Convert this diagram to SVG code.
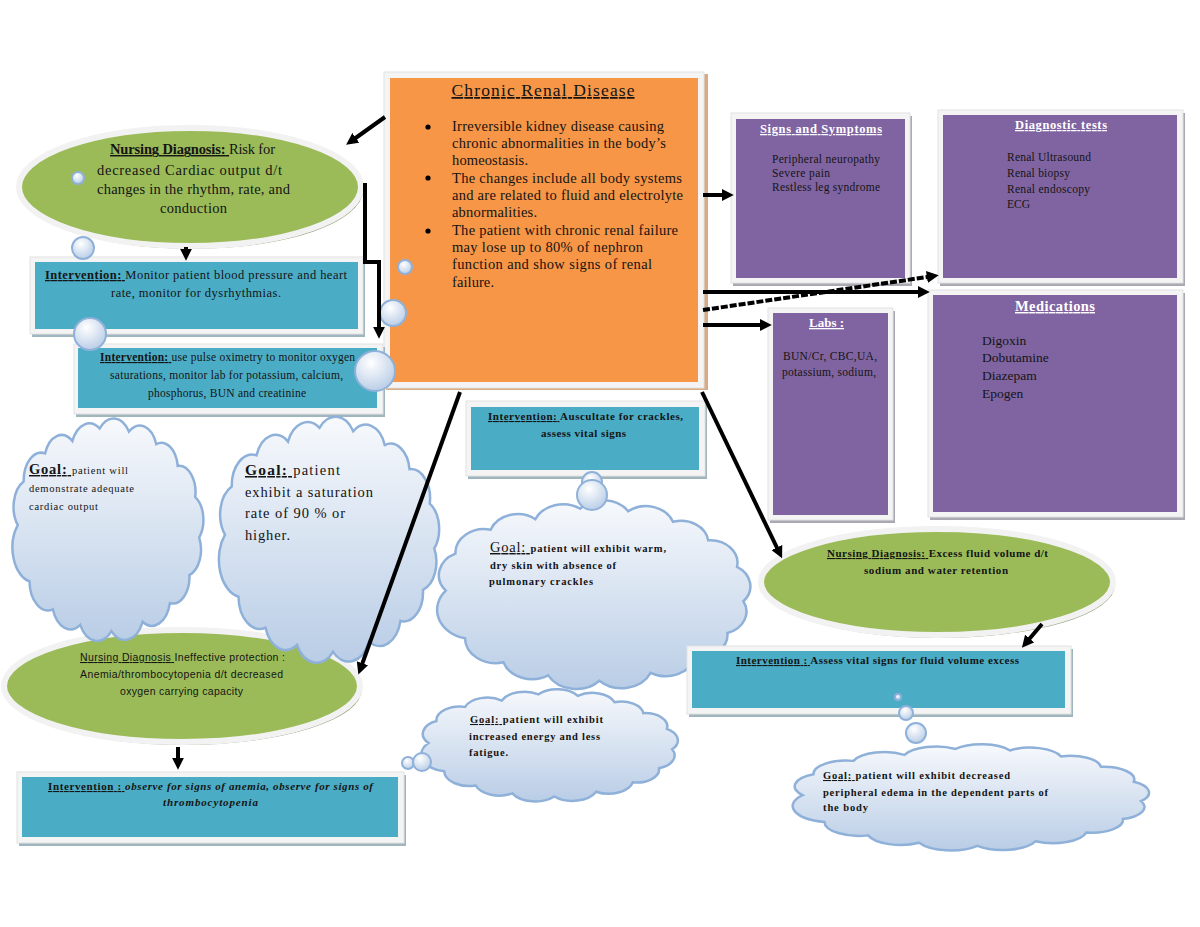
<svg xmlns="http://www.w3.org/2000/svg" xmlns:xlink="http://www.w3.org/1999/xlink" width="1200" height="927" viewBox="0 0 1200 927">
<style>
.t{font-family:"Liberation Serif","DejaVu Serif",serif;fill:#141414}
.s{font-family:"Liberation Sans","DejaVu Sans",sans-serif;fill:#141414}
.w{fill:#ffffff}
.b{font-weight:bold}
.u{text-decoration:underline}
.i{font-style:italic}
.mid{text-anchor:middle}
.orange{fill:#F79646}
.purple{fill:#8064A2}
.teal{fill:#4BACC6}
.green{fill:#9BBB59;stroke:#f2f2f2;stroke-width:6}
.frame{fill:#f4f4f4;stroke:#e2e2e2;stroke-width:1}
.shadow{fill:#a9a9b4}
.tshadow{fill:#9fb6bf}
.gshadow{fill:#8d9a72}
.cloud{fill:url(#cloudGrad);stroke:#8fb1d9;stroke-width:2.5;vector-effect:non-scaling-stroke}
.bub{fill:url(#bubGrad);stroke:#8fb1d9;stroke-width:2}
.arr{fill:none;stroke:#000;stroke-width:4;marker-end:url(#ah)}
</style>
<defs>
<linearGradient id="cloudGrad" x1="0" y1="0" x2="0" y2="1">
<stop offset="0" stop-color="#f7f9fc"/>
<stop offset="1" stop-color="#b9cde6"/>
</linearGradient>
<radialGradient id="bubGrad" cx="0.4" cy="0.3" r="0.75">
<stop offset="0" stop-color="#ffffff"/>
<stop offset="1" stop-color="#b6cbe6"/>
</radialGradient>
<marker id="ah" viewBox="0 0 10 10" refX="6" refY="5" markerWidth="3" markerHeight="3" orient="auto" markerUnits="strokeWidth">
<path d="M0,0 L10,5 L0,10 z" fill="#000"/>
</marker>
<path id="cloudShape" class="cloud" d="M8,70 A18,18 0 0 1 14,42 A18,18 0 0 1 36,24 A18,18 0 0 1 64,16 A19,19 0 0 1 92,8 A19,19 0 0 1 122,10 A18,18 0 0 1 150,18 A17,17 0 0 1 172,32 A17,17 0 0 1 190,52 A17,17 0 0 1 194,78 A17,17 0 0 1 184,102 A17,17 0 0 1 164,120 A19,19 0 0 1 136,132 A20,20 0 0 1 104,138 A20,20 0 0 1 72,134 A19,19 0 0 1 44,124 A19,19 0 0 1 20,106 A22,22 0 0 1 8,70 Z"/>
</defs>
<rect width="1200" height="927" fill="#ffffff"/>

<g id="chronic-renal-disease">
<rect x="386" y="74" width="322" height="316" fill="#d9ab84"/>
<rect x="384" y="72" width="320" height="316" class="frame"/>
<rect x="390" y="78" width="308" height="304" class="orange"/>
<text x="543" y="96" class="t u mid" font-size="17.5" textLength="183"> Chronic Renal Disease</text>
<circle cx="428" cy="127" r="2.6" fill="#000"/>
<circle cx="428" cy="178" r="2.6" fill="#000"/>
<circle cx="428" cy="231" r="2.6" fill="#000"/>
<g class="t" font-size="14.5">
<text x="452" y="131" textLength="212">Irreversible kidney disease causing</text>
<text x="452" y="148" textLength="214">chronic abnormalities in the body’s</text>
<text x="452" y="165" textLength="76">homeostasis.</text>
<text x="452" y="183" textLength="230">The changes include all body systems</text>
<text x="452" y="200" textLength="231">and are related to fluid and electrolyte</text>
<text x="452" y="217" textLength="85">abnormalities.</text>
<text x="452" y="235" textLength="226">The patient with chronic renal failure</text>
<text x="452" y="252" textLength="191">may lose up to 80% of nephron</text>
<text x="452" y="269" textLength="200">function  and show signs of renal</text>
<text x="452" y="287" textLength="42">failure.</text>
</g>
</g>

<g id="signs-symptoms">
<rect x="733" y="116" width="179" height="170" class="shadow"/>
<rect x="731" y="113" width="179" height="170" class="frame"/>
<rect x="736" y="119" width="169" height="159" class="purple"/>
<text x="821" y="133" class="t w b u mid" font-size="12.5" textLength="122">Signs and Symptoms</text>
<g class="t" font-size="11.5">
<text x="772" y="163" textLength="108">Peripheral neuropathy</text>
<text x="772" y="177" textLength="58">Severe pain</text>
<text x="772" y="191" textLength="108">Restless leg syndrome</text>
</g>
</g>

<g id="diagnostic-tests">
<rect x="940" y="113" width="245" height="173" class="shadow"/>
<rect x="938" y="110" width="245" height="173" class="frame"/>
<rect x="943" y="115" width="234" height="163" class="purple"/>
<text x="1061" y="129" class="t w b u mid" font-size="12.5" textLength="92">Diagnostic tests</text>
<g class="t" font-size="11.5">
<text x="1007" y="161" textLength="84">Renal Ultrasound</text>
<text x="1007" y="177" textLength="63">Renal biopsy</text>
<text x="1007" y="193" textLength="83">Renal endoscopy</text>
<text x="1007" y="208" textLength="23">ECG</text>
</g>
</g>

<g id="medications">
<rect x="930" y="293" width="255" height="227" class="shadow"/>
<rect x="928" y="290" width="255" height="227" class="frame"/>
<rect x="933" y="295" width="244" height="217" class="purple"/>
<text x="1055" y="311" class="t w b u mid" font-size="14.5" textLength="80">Medications</text>
<g class="t" font-size="13.5">
<text x="982" y="345">Digoxin</text>
<text x="982" y="362">Dobutamine</text>
<text x="982" y="380">Diazepam</text>
<text x="982" y="398">Epogen</text>
</g>
</g>

<g id="labs">
<rect x="770" y="311" width="125" height="212" class="shadow"/>
<rect x="768" y="308" width="125" height="212" class="frame"/>
<rect x="773" y="313" width="115" height="202" class="purple"/>
<text x="809" y="327" class="t w b u" font-size="13">Labs :  </text>
<g class="t mid" font-size="11.5">
<text x="830" y="360" textLength="94">BUN/Cr, CBC,UA,</text>
<text x="829" y="376" textLength="94">potassium, sodium,</text>
</g>
</g>

<g id="dx-cardiac-output">
<ellipse cx="192" cy="190" rx="171" ry="59" class="gshadow"/>
<ellipse cx="190" cy="187" rx="171" ry="59" class="green"/>
<g class="t mid" font-size="14.5">
<text x="192.5" y="154" textLength="165"><tspan class="b u">Nursing Diagnosis: </tspan>Risk for</text>
<text x="189.5" y="175" textLength="185">decreased Cardiac output d/t</text>
<text x="193.5" y="194" textLength="193">changes in the rhythm, rate, and</text>
<text x="193.5" y="213" textLength="67">conduction</text>
</g>
</g>

<g id="intervention-bp">
<rect x="32" y="260" width="333" height="77" class="tshadow"/>
<rect x="30" y="257" width="333" height="77" class="frame"/>
<rect x="35" y="262" width="323" height="67" class="teal"/>
<g class="t mid" font-size="12.5">
<text x="196" y="279" textLength="302"><tspan class="b u">Intervention: </tspan>Monitor  patient blood pressure  and heart</text>
<text x="196" y="297" textLength="170">rate, monitor for dysrhythmias.</text>
</g>
</g>

<g id="intervention-oximetry">
<rect x="76" y="347" width="309" height="70" class="tshadow"/>
<rect x="74" y="344" width="309" height="70" class="frame"/>
<rect x="78" y="348" width="299" height="60" class="teal"/>
<g class="t mid" font-size="11.5">
<text x="227.5" y="361" textLength="255"><tspan class="b u">Intervention: </tspan>use pulse oximetry to monitor oxygen</text>
<text x="226.5" y="379" textLength="233">saturations, monitor lab for potassium, calcium,</text>
<text x="227" y="397" textLength="158">phosphorus, BUN and creatinine</text>
</g>
</g>

<g id="dx-ineffective-protection">
<ellipse cx="184" cy="689" rx="178" ry="56" class="gshadow"/>
<ellipse cx="182" cy="686" rx="178" ry="56" class="green"/>
<g class="s mid" font-size="10.5">
<text x="182.5" y="661" textLength="205"><tspan class="u">Nursing Diagnosis </tspan>Ineffective protection :</text>
<text x="181.5" y="678" textLength="203">Anemia/thrombocytopenia d/t decreased</text>
<text x="181.5" y="695" textLength="123">oxygen carrying  capacity</text>
</g>
</g>

<g id="goal-cardiac-output">
<use xlink:href="#cloudShape" transform="translate(10,416) scale(0.975,1.559)"/>
<g class="t" font-size="10.5">
<text x="29" y="474" textLength="99"><tspan class="b u" font-size="14.5">Goal: </tspan> patient will</text>
<text x="29" y="492" textLength="105">demonstrate adequate</text>
<text x="29" y="510" textLength="69">cardiac output</text>
</g>
</g>

<g id="goal-saturation">
<use xlink:href="#cloudShape" transform="translate(216,414) scale(1.125,1.724)"/>
<g class="t" font-size="14.5">
<text x="245" y="475" textLength="95"><tspan class="b u" font-size="15.5">Goal: </tspan> patient</text>
<text x="245" y="497" textLength="128">exhibit a saturation</text>
<text x="245" y="518" textLength="100">rate of 90 % or</text>
<text x="245" y="540" textLength="45">higher.</text>
</g>
</g>

<g id="intervention-crackles">
<rect x="468" y="404" width="239" height="75" class="tshadow"/>
<rect x="466" y="401" width="239" height="75" class="frame"/>
<rect x="471" y="407" width="228" height="63" class="teal"/>
<g class="t b mid" font-size="11">
<text x="585.5" y="420" textLength="195"><tspan class="u">Intervention: </tspan>Auscultate for crackles,</text>
<text x="583.5" y="437" textLength="85">assess vital signs</text>
</g>
</g>

<g id="goal-warm-skin">
<use xlink:href="#cloudShape" transform="translate(433,498) scale(1.6,1.324)"/>
<g class="t b" font-size="10.5">
<text x="490" y="552" textLength="176"><tspan class="u" font-weight="normal" font-size="14.5">Goal: </tspan>patient will exhibit warm,</text>
<text x="490" y="569" textLength="126">dry skin with absence of</text>
<text x="489" y="585" textLength="104">pulmonary crackles</text>
</g>
</g>

<g id="goal-energy">
<use xlink:href="#cloudShape" transform="translate(418,688) scale(1.31,0.786)"/>
<g class="t b" font-size="10.5">
<text x="470" y="723" textLength="133"><tspan class="u">Goal: </tspan> patient will exhibit</text>
<text x="469" y="740" textLength="131">increased energy and less</text>
<text x="469" y="756" textLength="39">fatigue.</text>
</g>
</g>

<g id="dx-excess-fluid">
<ellipse cx="939" cy="585" rx="176" ry="53" class="gshadow"/>
<ellipse cx="937" cy="582" rx="176" ry="53" class="green"/>
<g class="t b mid" font-size="11">
<text x="937.5" y="557" textLength="221"><tspan class="u">Nursing Diagnosis: </tspan>Excess fluid volume d/t</text>
<text x="936" y="574" textLength="144">sodium and water retention</text>
</g>
</g>

<g id="intervention-vital-signs">
<rect x="689" y="649" width="384" height="68" class="tshadow"/>
<rect x="687" y="646" width="384" height="68" class="frame"/>
<rect x="692" y="651" width="373" height="57" class="teal"/>
<text x="736" y="664" class="t b" font-size="11" textLength="283"><tspan class="u">Intervention : </tspan>Assess vital signs  for fluid volume excess</text>
</g>

<g id="goal-edema">
<use xlink:href="#cloudShape" transform="translate(788,743) scale(1.82,0.745)"/>
<g class="t b" font-size="10.5">
<text x="823" y="779" textLength="187"><tspan class="u">Goal: </tspan> patient will exhibit decreased</text>
<text x="823" y="796" textLength="225">peripheral edema in the dependent parts of</text>
<text x="823" y="811" textLength="45">the body</text>
</g>
</g>

<g id="intervention-anemia">
<rect x="19" y="775" width="387" height="71" class="tshadow"/>
<rect x="17" y="772" width="387" height="71" class="frame"/>
<rect x="22" y="777" width="376" height="60" class="teal"/>
<g class="t b mid" font-size="11">
<text x="210.5" y="790" textLength="325"><tspan class="u">Intervention : </tspan> <tspan class="i">observe for signs of anemia, observe for signs of</tspan></text>
<text x="210.5" y="806" class="i" textLength="95">thrombocytopenia</text>
</g>
</g>

<g id="bubbles">
<circle cx="78" cy="178" r="6" class="bub"/>
<circle cx="83" cy="248" r="11" class="bub"/>
<circle cx="90" cy="334" r="16" class="bub"/>
<circle cx="405" cy="267" r="7" class="bub"/>
<circle cx="393" cy="313" r="13" class="bub"/>
<circle cx="375" cy="371" r="20" class="bub"/>
<circle cx="592" cy="482" r="10" class="bub"/>
<circle cx="592" cy="495" r="15" class="bub"/>
<circle cx="408" cy="763" r="6" class="bub"/>
<circle cx="422" cy="762" r="9" class="bub"/>
<circle cx="898" cy="697" r="3" class="bub"/>
<circle cx="906" cy="713" r="7" class="bub"/>
<circle cx="916" cy="733" r="10" class="bub"/>
</g>

<g id="connectors">
<line x1="385" y1="117" x2="350" y2="142" class="arr"/>
<line x1="186" y1="247" x2="186" y2="256" class="arr" stroke-width="3"/>
<polyline points="365,183 365,262 379,262 379,334" class="arr" stroke-width="3.5"/>
<line x1="460" y1="392" x2="360" y2="670" class="arr"/>
<line x1="702" y1="392" x2="780" y2="554" class="arr"/>
<line x1="1042" y1="624" x2="1025" y2="644" class="arr"/>
<line x1="178" y1="747" x2="178" y2="765" class="arr"/>
<line x1="703" y1="195" x2="729" y2="195" class="arr"/>
<line x1="703" y1="292" x2="925" y2="292" class="arr"/>
<line x1="703" y1="310" x2="934" y2="276" class="arr" stroke-width="3" stroke-dasharray="7,2"/>
<line x1="703" y1="325" x2="767" y2="325" class="arr"/>
</g>
</svg>
